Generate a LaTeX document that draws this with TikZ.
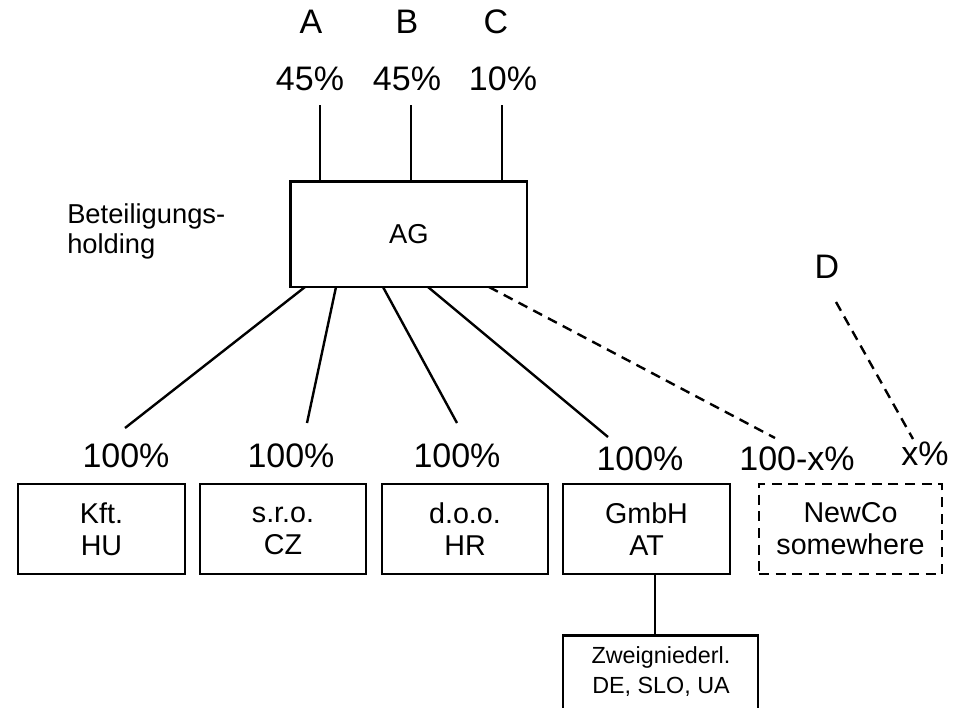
\documentclass[tikz,border=0pt]{standalone}
\usepackage{fontspec}
\setmainfont{Liberation Sans}
\newcommand\twoline[2]{\vphantom{A}#1\\\vphantom{A}#2}
\begin{document}
\begin{tikzpicture}[x=0.75pt,y=-0.75pt,
  box/.style={draw,line width=2.2pt,inner sep=0pt,align=center,
    minimum height=67.5pt,font=\fontsize{21.5}{24}\selectfont},
  lbl/.style={font=\fontsize{25.5}{27}\selectfont,anchor=base,inner sep=0pt},
  conn/.style={line width=1.8pt},
  dconn/.style={conn,dash pattern=on 7.5pt off 5pt}]
\useasboundingbox (0,0) rectangle (960,707);
\clip (0,0) rectangle (960,707);

% shareholders
\node[lbl] (A) at (311,33) {A};
\node[lbl] (B) at (407,33) {B};
\node[lbl] (C) at (496,33) {C};
\node[lbl] (pA) at (310,90) {45\%};
\node[lbl] (pB) at (407,90) {45\%};
\node[lbl] (pC) at (503,90) {10\%};

% holding
\node[box,minimum width=177.2pt,minimum height=79pt,font=\fontsize{20.5}{24}\selectfont] (ag) at (408.85,234.35) {AG};
\node[font=\fontsize{20.5}{22.5}\selectfont,align=left,anchor=west,inner sep=0pt]
  (bh) at (67,231) {Beteiligungs-\\holding};

\coordinate (tA) at (320,105);
\coordinate (tB) at (410.7,105);
\coordinate (tC) at (501.7,105);
\draw[conn] (tA) -- (tA |- ag.north);
\draw[conn] (tB) -- (tB |- ag.north);
\draw[conn] (tC) -- (tC |- ag.north);

% subsidiaries
\node[box,minimum width=125.25pt] (kft) at (101.5,529) {\twoline{Kft.}{HU}};
\node[box,minimum width=124.5pt] (sro) at (283,529) {\twoline{s.r.o.}{CZ}};
\node[box,minimum width=124.5pt] (doo) at (465,529) {\twoline{d.o.o.}{HR}};
\node[box,minimum width=125.25pt] (gmbh) at (646.5,529) {\twoline{GmbH}{AT}};
\node[box,minimum width=137.25pt,dash pattern=on 7.5pt off 5pt] (newco) at (850.5,529) {\twoline{NewCo}{somewhere}};

% percentages
\node[lbl] (p1) at (126,467) {100\%};
\node[lbl] (p2) at (291,467) {100\%};
\node[lbl] (p3) at (457,467) {100\%};
\node[lbl] (p4) at (640,470) {100\%};
\node[lbl] (p5) at (797,470) {100-x\%};
\node[lbl] (p6) at (925,465) {x\%};
\node[lbl] (D) at (827,278) {D};

% connectors from AG
\coordinate (s1) at (305,287);
\coordinate (s2) at (336,287);
\coordinate (s3) at (383,287);
\coordinate (s4) at (428,287);
\coordinate (s5) at (489,287);
\coordinate (e1) at (125,428);
\coordinate (e2) at (307,423);
\coordinate (e3) at (457,423);
\coordinate (e4) at (608,437);
\coordinate (e5) at (775,438);
\draw[conn] (s1) -- (e1);
\draw[conn] (s2) -- (e2);
\draw[conn] (s3) -- (e3);
\draw[conn] (s4) -- (e4);
\draw[dconn] (s5) -- (e5);

\coordinate (dT) at (836,302);
\coordinate (dB) at (913,439);
\draw[dconn] (dT) -- (dB);

% branch
\node[box,minimum width=146.25pt,minimum height=72pt,anchor=north] (zw) at (660.5,634) {};
\node[font=\fontsize{17.5}{22.5}\selectfont,align=center,inner sep=0pt] (zwt) at (661,672) {Zweigniederl.\\DE, SLO, UA};
\coordinate (g1) at (655,574);
\draw[conn] (g1) -- (g1 |- zw.north);
\end{tikzpicture}
\end{document}
